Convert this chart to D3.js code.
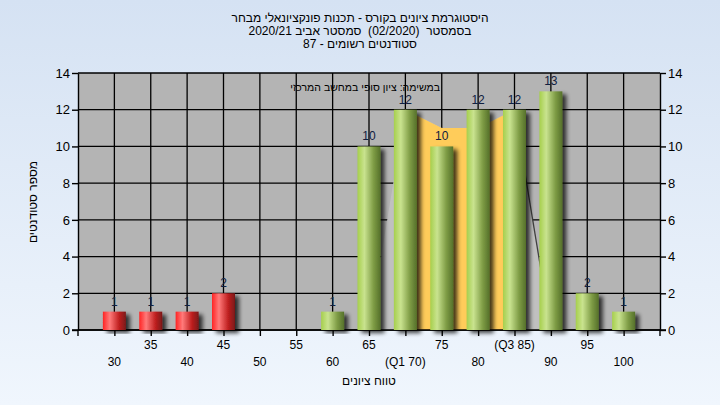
<!DOCTYPE html>
<html><head><meta charset="utf-8">
<script src="https://cdn.jsdelivr.net/npm/d3@7"></script>
<style>body{margin:0;padding:0;overflow:hidden;} svg{display:block;} text{font-family:"Liberation Sans",Arial,sans-serif;white-space:pre;}</style>
</head><body>
<script>
const categories = [30,35,40,45,50,55,60,65,70,75,80,85,90,95,100];
const tickLabels = ["30","35","40","45","50","55","60","65","(Q1 70)","75","80","(Q3 85)","90","95","100"];
const counts = [1,1,1,2,0,0,1,10,12,10,12,12,13,2,1];
const passScore = 55;
const envelopeCats = [65,70,75,80,85,90];
const envelopeVals = [0,12,11,11,12,0];
const iqrCats = [70,75,80,85];
const iqrVals = [12,11,11,12];
const edgeCats = [85,90];
const edgeVals = [12,0];
const yTicks = [0,2,4,6,8,10,12,14];
const titleLines = ["היסטוגרמת ציונים בקורס - תכנות פונקציונאלי מבחר","בסמסטר  (02/2020)  סמסטר אביב 2020/21","סטודנטים רשומים - 87"];
const noteText = "במשימה: ציון סופי במחשב המרכזי";
const xTitle = "טווח ציונים";
const yTitle = "מספר סטודנטים";

const W=720,H=405;
const L=78,R=660,T=73,B=330;
const svg=d3.select("body").append("svg").attr("width",W).attr("height",H);
const defs=svg.append("defs");
const bg=defs.append("linearGradient").attr("id","bg").attr("x1",0).attr("y1",0).attr("x2",0).attr("y2",1);
bg.append("stop").attr("offset","0%").attr("stop-color","#d5e2f3");
bg.append("stop").attr("offset","100%").attr("stop-color","#f0f6fd");
function barGrad(id,c0,c1,c2,c3){
  const g=defs.append("linearGradient").attr("id",id).attr("x1",0).attr("y1",0).attr("x2",1).attr("y2",0);
  g.append("stop").attr("offset","0%").attr("stop-color",c0);
  g.append("stop").attr("offset","30%").attr("stop-color",c1);
  g.append("stop").attr("offset","70%").attr("stop-color",c2);
  g.append("stop").attr("offset","100%").attr("stop-color",c3);
}
barGrad("gGreen","#a6cf4c","#c9e38f","#7e9c45","#55702a");
barGrad("gRed","#ff2424","#ff7a7a","#c02020","#7a1818");
const f=defs.append("filter").attr("id","sh").attr("x","-20%").attr("y","-20%").attr("width","160%").attr("height","140%");
f.append("feGaussianBlur").attr("in","SourceAlpha").attr("stdDeviation",2).attr("result","b");
f.append("feOffset").attr("in","b").attr("dx",4).attr("dy",3).attr("result","o");
f.append("feComponentTransfer").attr("in","o").attr("result","o2").append("feFuncA").attr("type","linear").attr("slope",0.75);
const m=f.append("feMerge"); m.append("feMergeNode").attr("in","o2"); m.append("feMergeNode").attr("in","SourceGraphic");

svg.append("rect").attr("width",W).attr("height",H).attr("fill","url(#bg)");

const x=d3.scalePoint().domain(categories).range([L,R]).padding(1);
const y=d3.scaleLinear().domain([0,14]).range([B,T]);
const bw=23;

svg.append("rect").attr("x",L).attr("y",T).attr("width",R-L).attr("height",B-T).attr("fill","#b4b4b4");
const grid=svg.append("g").attr("stroke","#000").attr("stroke-width",1.3);
grid.selectAll("line.h").data(yTicks).join("line").attr("x1",L).attr("x2",R).attr("y1",d=>y(d)).attr("y2",d=>y(d));
grid.selectAll("line.v").data(categories).join("line").attr("x1",d=>x(d)).attr("x2",d=>x(d)).attr("y1",T).attr("y2",B);

// areas
const area=d3.area().x(d=>x(d[0])).y0(y(0)).y1(d=>y(d[1]));
svg.append("path").datum(d3.zip(envelopeCats,envelopeVals)).attr("d",area).attr("fill","#c0c0c0");
svg.append("path").datum(d3.zip(iqrCats,iqrVals)).attr("d",area).attr("fill","#ffcc5a");
svg.append("path").datum(d3.zip(edgeCats,edgeVals)).attr("d",d3.line().x(d=>x(d[0])).y(d=>y(d[1]))).attr("fill","none").attr("stroke","#404040").attr("stroke-width",1.3);

// axes
const yl=d3.axisLeft(y).tickValues(yTicks).tickSize(6).tickSizeOuter(0);
const yr=d3.axisRight(y).tickValues(yTicks).tickSize(6).tickSizeOuter(0);
const gl=svg.append("g").attr("transform",`translate(${L},0)`).call(yl);
const gr=svg.append("g").attr("transform",`translate(${R},0)`).call(yr);
[gl,gr].forEach(g=>{g.selectAll("text").attr("font-size",13).attr("fill","#000").attr("font-family","Liberation Sans, Arial, sans-serif");g.selectAll("line,path").attr("stroke","#000").attr("stroke-width",1.4);});
gl.selectAll("text").attr("x",-8);
gr.selectAll("text").attr("x",8);
const xa=d3.axisBottom(x).tickSize(6).tickFormat("").tickSizeOuter(0);
const gx=svg.append("g").attr("transform",`translate(0,${B})`).call(xa);
gx.selectAll("line,path").attr("stroke","#000").attr("stroke-width",1.4);
gx.select("path.domain").attr("d",`M${L-6},0H${R+6}`);
gx.append("line").attr("x1",L).attr("x2",L).attr("y1",0).attr("y2",6).attr("stroke","#000").attr("stroke-width",1.4);
gx.append("line").attr("x1",R).attr("x2",R).attr("y1",0).attr("y2",6).attr("stroke","#000").attr("stroke-width",1.4);
svg.append("g").selectAll("text").data(categories).join("text")
  .attr("x",d=>x(d)).attr("y",(d,i)=>i%2===1?349:366)
  .attr("text-anchor","middle").attr("font-size",12).attr("fill","#000")
  .text((d,i)=>tickLabels[i]);

// bars
const data=categories.map((c,i)=>({c,v:counts[i]})).filter(d=>d.v>0);
svg.append("g").selectAll("rect").data(data).join("rect")
  .attr("x",d=>x(d.c)-bw/2).attr("width",bw)
  .attr("y",d=>y(d.v)).attr("height",d=>y(0)-y(d.v))
  .attr("fill",d=>d.c<passScore?"url(#gRed)":"url(#gGreen)")
  .attr("filter","url(#sh)");
svg.append("g").selectAll("text").data(data).join("text")
  .attr("x",d=>x(d.c)).attr("y",d=>y(d.v)-6)
  .attr("text-anchor","middle").attr("font-size",12).attr("fill","#102040")
  .text(d=>d.v);

// texts
svg.append("g").selectAll("text").data(titleLines).join("text")
  .attr("x",360).attr("y",(d,i)=>22+i*13).attr("text-anchor","middle")
  .attr("direction","rtl").attr("font-size",12).attr("fill","#000").text(d=>d);
svg.append("text").attr("x",440).attr("y",91).attr("text-anchor","start").attr("direction","rtl")
  .attr("font-size",10.5).attr("fill","#000").text(noteText);
svg.append("text").attr("x",369).attr("y",385).attr("text-anchor","middle").attr("direction","rtl")
  .attr("font-size",12).attr("fill","#000").text(xTitle);
svg.append("text").attr("transform","translate(37,202) rotate(-90)").attr("text-anchor","middle").attr("direction","rtl")
  .attr("font-size",12).attr("fill","#000").text(yTitle);
</script>
</body></html>
